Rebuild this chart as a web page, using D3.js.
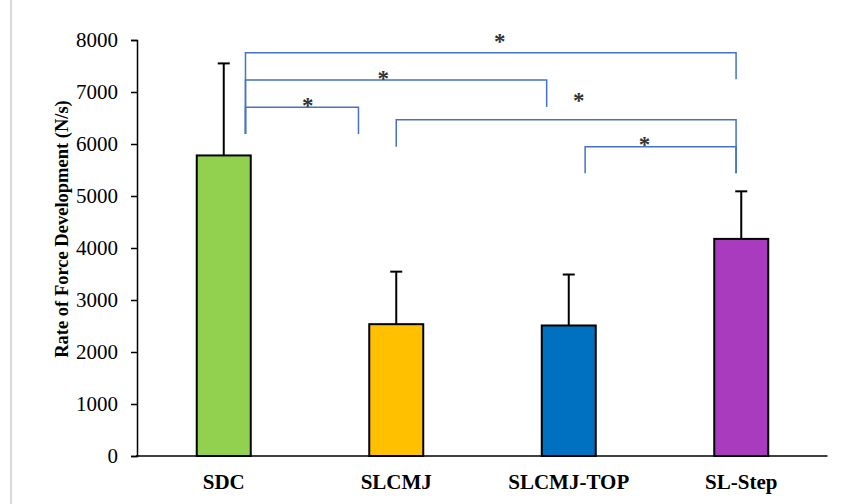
<!DOCTYPE html>
<html>
<head>
<meta charset="utf-8">
<script src="https://cdn.jsdelivr.net/npm/d3@7"></script>
<style>
  html, body { margin: 0; padding: 0; background: #fff; }
  svg { display: block; }
</style>
</head>
<body>
<div id="chart"></div>
<script>
const categories = ["SDC", "SLCMJ", "SLCMJ-TOP", "SL-Step"];
const means = [5780, 2535, 2510, 4175];
const sds = [1770, 1010, 980, 915];
const barColors = ["#92D050", "#FFC000", "#0070C0", "#A93BBF"];
const yTicks = [0, 1000, 2000, 3000, 4000, 5000, 6000, 7000, 8000];
const yTitle = "Rate of Force Development (N/s)";

// significance brackets: endpoints as [category index, offset in band steps], heights in data units
const bracketFrom = [[0, 0.126], [0, 0.126], [0, 0.126], [1, 0.0], [2, 0.095]];
const bracketTo   = [[3, -0.030], [2, -0.128], [1, -0.219], [3, -0.030], [3, -0.030]];
const bracketY    = [7756, 7231, 6706, 6468, 5949];
const bracketYFrom = [6193, 6193, 6193, 5949, 5438];
const bracketYTo   = [7245, 6712, 6193, 5438, 5438];
const starPos = [[1, 0.6], [1, -0.076], [0, 0.487], [2, 0.058], [2, 0.439]];
const starY = [8017, 7313, 6783, 6879, 6034];

const W = 845, H = 504;
const svg = d3.select("#chart").append("svg").attr("width", W).attr("height", H);

// left border line
svg.append("line").attr("x1", 11).attr("x2", 11).attr("y1", 0).attr("y2", H)
  .attr("stroke", "#d9d9d9").attr("stroke-width", 2);

const x = d3.scaleBand().domain(categories).range([137.5, 827.5])
  .paddingInner(0.687).paddingOuter(0.3435);
const y = d3.scaleLinear().domain([0, 8000]).range([456, 40]);
const step = x.step();
const pos = p => x(categories[p[0]]) + x.bandwidth() / 2 + p[1] * step;

// y axis
const yAxis = svg.append("g").attr("transform", "translate(137,0)")
  .call(d3.axisLeft(y).tickValues(yTicks).tickSize(6).tickPadding(13).tickFormat(d3.format("d")));
yAxis.select(".domain").attr("stroke", "#000").attr("stroke-width", 1.5);
yAxis.selectAll(".tick line").attr("stroke", "#000").attr("stroke-width", 1.5);
yAxis.selectAll(".tick text").attr("font-family", "'Liberation Serif', 'Times New Roman', serif")
  .attr("font-size", 21).attr("fill", "#000");

// bars
const data = categories.map((c, i) => ({ c, m: means[i], s: sds[i], col: barColors[i] }));
svg.append("g").selectAll("rect").data(data).join("rect")
  .attr("x", d => x(d.c)).attr("width", x.bandwidth())
  .attr("y", d => y(d.m)).attr("height", d => y(0) - y(d.m))
  .attr("fill", d => d.col).attr("stroke", "#000").attr("stroke-width", 2);

// error bars
const eb = svg.append("g").attr("stroke", "#000").attr("stroke-width", 2);
data.forEach(d => {
  const cx = x(d.c) + x.bandwidth() / 2;
  eb.append("line").attr("x1", cx).attr("x2", cx).attr("y1", y(d.m)).attr("y2", y(d.m + d.s));
  eb.append("line").attr("x1", cx - 6).attr("x2", cx + 6).attr("y1", y(d.m + d.s)).attr("y2", y(d.m + d.s));
});

// x axis
const xAxis = svg.append("g").attr("transform", "translate(0,456)")
  .call(d3.axisBottom(x).tickSize(0).tickPadding(18));
xAxis.select(".domain").attr("stroke", "#000").attr("stroke-width", 1.5)
  .attr("d", "M136,0H827.5");
xAxis.selectAll(".tick text").attr("font-family", "'Liberation Serif', 'Times New Roman', serif")
  .attr("font-size", 21).attr("font-weight", "bold").attr("fill", "#000");

// brackets
const br = svg.append("g").attr("fill", "none").attr("stroke", "#4472C4").attr("stroke-width", 1.5);
bracketY.forEach((by, i) => {
  const x1 = pos(bracketFrom[i]), x2 = pos(bracketTo[i]);
  br.append("path").attr("d",
    `M${x1},${y(bracketYFrom[i])}V${y(by)}H${x2}V${y(bracketYTo[i])}`);
});
svg.append("g").selectAll("text").data(starY).join("text")
  .attr("x", (d, i) => pos(starPos[i]))
  .attr("y", d => y(d) + 10)
  .attr("text-anchor", "middle")
  .attr("font-family", "'Liberation Serif', 'Times New Roman', serif")
  .attr("font-size", 23).attr("font-weight", "bold").attr("fill", "#333")
  .text("*");

// y title
svg.append("text")
  .attr("transform", "translate(68,229) rotate(-90)")
  .attr("text-anchor", "middle")
  .attr("font-family", "'Liberation Serif', 'Times New Roman', serif")
  .attr("font-size", 18.5).attr("font-weight", "bold").attr("fill", "#000")
  .text(yTitle);
</script>
</body>
</html>
